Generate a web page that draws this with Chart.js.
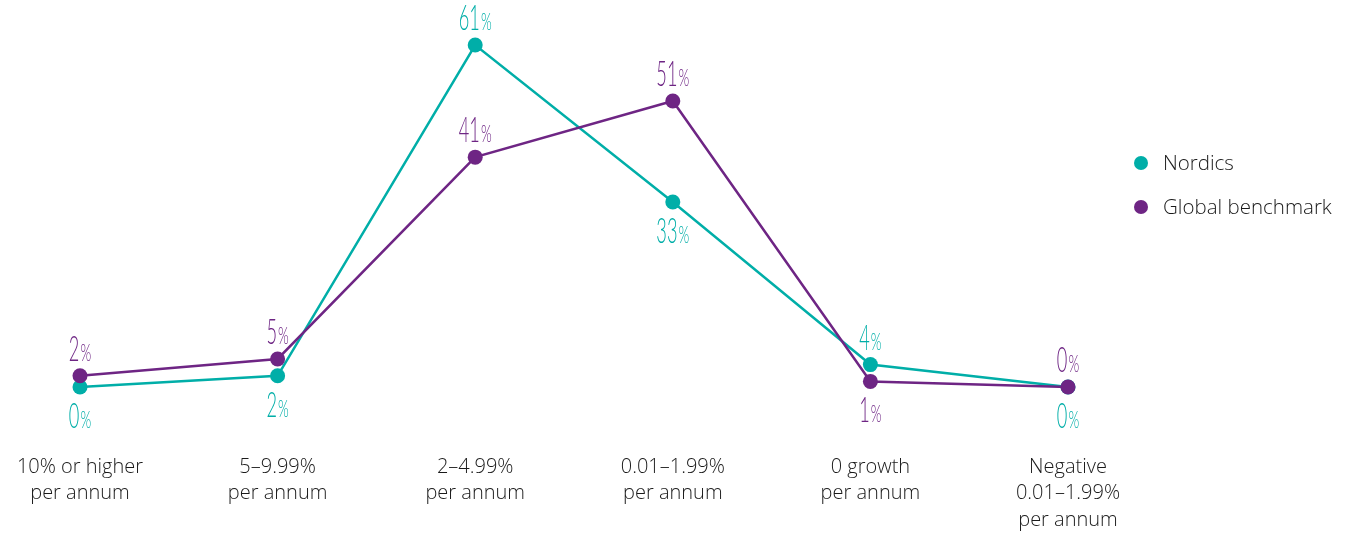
<!DOCTYPE html>
<html>
<head>
<meta charset="utf-8">
<script src="https://cdn.jsdelivr.net/npm/chart.js@4/dist/chart.umd.min.js"></script>
<style>
  html, body { margin: 0; padding: 0; background: #ffffff; }
  #wrap { position: relative; width: 1345px; height: 533px; }
</style>
</head>
<body>
<div id="wrap"><canvas id="c" width="1345" height="533"></canvas></div>
<script>
// Growth bands (x axis categories, multi-line)
const categories = [
  ["10% or higher", "per annum"],
  ["5–9.99%", "per annum"],
  ["2–4.99%", "per annum"],
  ["0.01–1.99%", "per annum"],
  ["0 growth", "per annum"],
  ["Negative", "0.01–1.99%", "per annum"]
];

// Share of respondents per band, in percent
const nordics = [0, 2, 61, 33, 4, 0];
const globalBenchmark = [2, 5, 41, 51, 1, 0];

// Where each value label sits relative to its point
const nordicsLabelSide = ["below", "below", "above", "below", "above", "below"];
const globalLabelSide = ["above", "above", "above", "above", "below", "above"];

const seriesNames = ["Nordics", "Global benchmark"];
const TEAL = "#00aea8";
const PURPLE = "#6e2584";
const TEXT_FONT = "'Open Sans', Roboto, 'Liberation Sans', sans-serif";

// Condensed, light value labels drawn next to each point
const valueLabels = {
  id: "valueLabels",
  afterDatasetsDraw(chart) {
    const ctx = chart.ctx;
    chart.data.datasets.forEach((ds, di) => {
      const meta = chart.getDatasetMeta(di);
      meta.data.forEach((pt, i) => {
        const side = ds.labelSide[i];
        const num = String(ds.data[i]);
        const cy = side === "above" ? pt.y - 27 : pt.y + 29;
        ctx.save();
        ctx.fillStyle = ds.borderColor;
        ctx.textBaseline = "alphabetic";
        const sxNum = 0.52, sxPct = 0.6;
        ctx.font = "300 35px Lato, 'Open Sans', sans-serif";
        const wNum = ctx.measureText(num).width * sxNum;
        ctx.font = "300 23px Lato, 'Open Sans', sans-serif";
        const wPct = ctx.measureText("%").width * sxPct;
        const total = wNum + wPct + 1;
        const left = pt.x - total / 2;
        const base = cy + 12;
        ctx.translate(left, base);
        ctx.save();
        ctx.scale(sxNum, 1);
        ctx.font = "300 35px Lato, 'Open Sans', sans-serif";
        ctx.fillText(num, 0, 0);
        ctx.restore();
        ctx.save();
        ctx.translate(wNum + 1, 0);
        ctx.scale(sxPct, 1);
        ctx.font = "300 23px Lato, 'Open Sans', sans-serif";
        ctx.fillText("%", 0, 0);
        ctx.restore();
        ctx.restore();
      });
    });
  }
};

// Legend on the right, dot + name
const sideLegend = {
  id: "sideLegend",
  afterDraw(chart) {
    const ctx = chart.ctx;
    const items = [
      { name: seriesNames[0], color: TEAL },
      { name: seriesNames[1], color: PURPLE }
    ];
    items.forEach((it, k) => {
      const y = 163 + k * 44;
      ctx.save();
      ctx.beginPath();
      ctx.arc(1141, y, 7, 0, Math.PI * 2);
      ctx.fillStyle = it.color;
      ctx.fill();
      ctx.fillStyle = "#1a1a1a";
      ctx.font = "300 20.5px " + TEXT_FONT;
      ctx.textBaseline = "middle";
      ctx.fillText(it.name, 1163, y + 1);
      ctx.restore();
    });
  }
};

new Chart(document.getElementById("c"), {
  type: "line",
  data: {
    labels: categories,
    datasets: [
      {
        label: seriesNames[1],
        data: globalBenchmark,
        labelSide: globalLabelSide,
        borderColor: PURPLE,
        backgroundColor: PURPLE,
        borderWidth: 2.5,
        pointRadius: 7.5,
        pointHoverRadius: 7.5,
        pointBorderWidth: 0,
        tension: 0,
        clip: false,
        order: 0
      },
      {
        label: seriesNames[0],
        data: nordics,
        labelSide: nordicsLabelSide,
        borderColor: TEAL,
        backgroundColor: TEAL,
        borderWidth: 2.5,
        pointRadius: 7.5,
        pointHoverRadius: 7.5,
        pointBorderWidth: 0,
        tension: 0,
        clip: false,
        order: 1
      }
    ]
  },
  options: {
    responsive: false,
    animation: false,
    devicePixelRatio: 1,
    layout: { padding: { top: 45, left: 80, right: 277, bottom: 0 } },
    plugins: {
      legend: { display: false },
      tooltip: { enabled: false }
    },
    scales: {
      x: {
        offset: false,
        grid: { display: false, drawTicks: false },
        border: { display: false },
        afterFit(scale) {
          scale.height = 146;
          scale.paddingLeft = 0;
          scale.paddingRight = 0;
        },
        ticks: {
          color: "#1a1a1a",
          padding: 67,
          maxRotation: 0,
          autoSkip: false,
          font: { family: TEXT_FONT, size: 20, weight: 300, lineHeight: 1.32 }
        }
      },
      y: {
        display: false,
        min: 0,
        max: 61
      }
    }
  },
  plugins: [valueLabels, sideLegend]
});
</script>
</body>
</html>
